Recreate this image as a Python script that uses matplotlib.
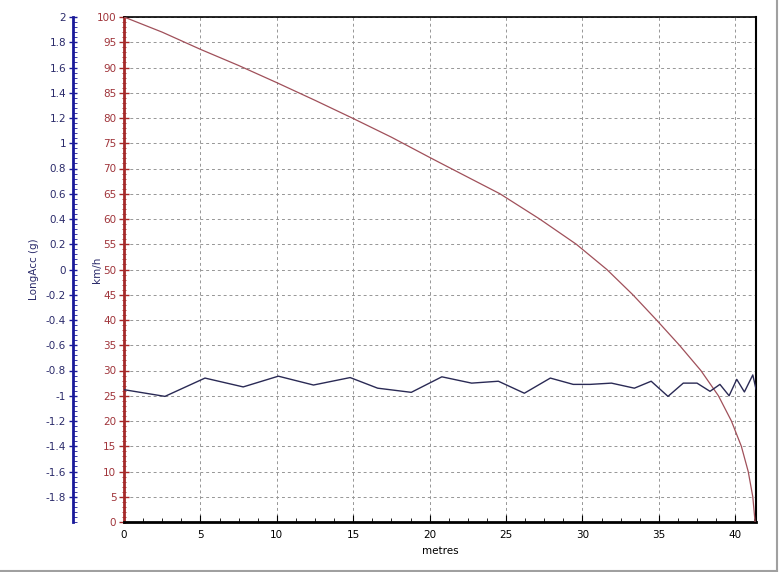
import matplotlib
matplotlib.use("Agg")
import matplotlib.pyplot as plt
from matplotlib.ticker import MultipleLocator, FixedLocator, FixedFormatter
from matplotlib.lines import Line2D

# Speed (km/h) vs distance (m)
speed_dist = [0, 2.5, 5, 7.5, 10, 12.5, 15, 17.5, 20, 21.4, 24.6, 27.2, 29.6,
              31.6, 33.3, 34.85, 36.35, 37.75, 38.9, 39.75, 40.4, 40.85, 41.15, 41.3]
speed_kmh = [100, 97, 93.6, 90.4, 87, 83.5, 79.9, 76.2, 72.2, 70, 65, 60, 55,
             50, 45, 40, 35, 30, 25, 20, 15, 10, 5, 0]

# Longitudinal acceleration (g) vs distance (m)
acc_dist = [0, 2.68, 5.3, 7.8, 10.1, 12.4, 14.8, 16.6, 18.8, 20.8, 22.75, 24.5,
            26.2, 27.9, 29.4, 30.5, 31.9, 33.4, 34.5, 35.6, 36.6, 37.5, 38.35,
            39.0, 39.6, 40.1, 40.6, 41.15, 41.36]
acc_g = [-0.952, -1.005, -0.86, -0.93, -0.845, -0.915, -0.856, -0.94, -0.973,
         -0.85, -0.9, -0.885, -0.98, -0.86, -0.91, -0.91, -0.9, -0.94, -0.885,
         -1.005, -0.9, -0.9, -0.965, -0.91, -1.0, -0.87, -0.97, -0.835, -0.947]

acc_ticks = [-1.8, -1.6, -1.4, -1.2, -1, -0.8, -0.6, -0.4, -0.2, 0,
             0.2, 0.4, 0.6, 0.8, 1, 1.2, 1.4, 1.6, 1.8, 2]
acc_labels = ["-1.8", "-1.6", "-1.4", "-1.2", "-1", "-0.8", "-0.6", "-0.4", "-0.2", "0",
              "0.2", "0.4", "0.6", "0.8", "1", "1.2", "1.4", "1.6", "1.8", "2"]

RED = "#a52a2a"
REDTXT = "#a0343a"
BLUE = "#1a1a9a"
BLUETXT = "#2a2a6a"
CURVE_RED = "#a0505a"
CURVE_BLUE = "#2a2a55"

fig = plt.figure(figsize=(7.8, 5.72), dpi=100)
ax = fig.add_axes([124/780, 1-522/572, (756-124)/780, (522-17)/572])

ax.plot(speed_dist, speed_kmh, color=CURVE_RED, lw=0.9, zorder=3)
ax.set_xlim(0, 41.36)
ax.set_ylim(0, 100)
ax.xaxis.set_major_locator(MultipleLocator(5))
ax.xaxis.set_minor_locator(MultipleLocator(1.25))
ax.yaxis.set_major_locator(MultipleLocator(5))
ax.yaxis.set_minor_locator(MultipleLocator(1))
ax.grid(True, which="major", color="#969696", linestyle=(0, (3, 3)), lw=0.7)
ax.set_axisbelow(True)

for s in ["top", "right", "bottom"]:
    ax.spines[s].set_color("black")
ax.spines["bottom"].set_linewidth(2)
ax.spines["top"].set_linewidth(1.2)
ax.spines["right"].set_linewidth(1.5)
ax.spines["left"].set_color(RED)
ax.spines["left"].set_linewidth(2)

ax.tick_params(axis="x", which="major", direction="in", length=5, labelsize=7.5,
               colors="black", pad=6)
ax.tick_params(axis="x", which="minor", direction="in", length=3, colors="black")
ax.tick_params(axis="y", which="major", direction="inout", length=7, width=1,
               color=RED, labelcolor=REDTXT, labelsize=7.5, pad=2)
ax.tick_params(axis="y", which="minor", direction="inout", length=3, color=RED)
ax.set_xlabel("metres", fontsize=7.5, labelpad=4)
ax.set_ylabel("km/h", fontsize=7.5, color=BLUETXT)
ax.yaxis.set_label_coords((102-124)/632, 0.5)

ax2 = ax.twinx()
ax2.plot(acc_dist, acc_g, color=CURVE_BLUE, lw=1.0, zorder=4)
ax2.set_ylim(-2, 2)
ax2.yaxis.set_label_position("left")
ax2.yaxis.set_ticks_position("left")
ax2.spines["left"].set_position(("outward", 51 * 72 / 100))
ax2.spines["left"].set_visible(True)
ax2.spines["left"].set_color(BLUE)
ax2.spines["left"].set_linewidth(2)
for s in ["top", "right", "bottom"]:
    ax2.spines[s].set_visible(False)
ax2.yaxis.set_major_locator(FixedLocator(acc_ticks))
ax2.yaxis.set_major_formatter(FixedFormatter(acc_labels))
ax2.yaxis.set_minor_locator(MultipleLocator(0.04))
ax2.tick_params(axis="y", which="major", direction="inout", length=6, width=1,
                color=BLUE, labelcolor=BLUETXT, labelsize=7.5, pad=2)
ax2.tick_params(axis="y", which="minor", direction="in", length=3, color=BLUE)
ax2.set_ylabel("LongAcc (g)", fontsize=7.5, color=BLUETXT)
ax2.yaxis.set_label_coords((39-124)/632, 0.5)

# window frame edges
fig.add_artist(Line2D([0, 777/780], [1-571/572, 1-571/572], transform=fig.transFigure,
                      color="#a0a0a0", lw=1.5))
fig.add_artist(Line2D([777/780, 777/780], [1-571/572, 1], transform=fig.transFigure,
                      color="#a0a0a0", lw=1.5))

fig.savefig("out.png", dpi=100)
